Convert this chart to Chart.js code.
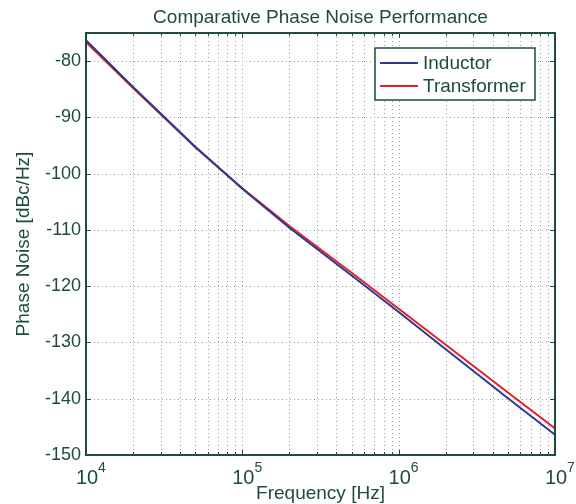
<!DOCTYPE html>
<html>
<head>
<meta charset="utf-8">
<script src="https://cdn.jsdelivr.net/npm/chart.js@4.4.1/dist/chart.umd.min.js"></script>
<style>
  html, body { margin: 0; padding: 0; background: #fff; }
  #wrap { width: 576px; height: 504px; }
</style>
</head>
<body>
<div id="wrap"><canvas id="phaseChart" width="576" height="504"></canvas></div>
<script>
'use strict';

// offset frequencies in Hz
const frequencies = [1e4, 2e4, 5e4, 1e5, 2e5, 5e5, 1e6, 2e6, 5e6, 1e7];
// phase noise in dBc/Hz
const inductorNoise = [-76.3, -84.6, -95.2, -102.7, -109.6, -118.1, -124.6, -131.2, -139.9, -146.4];
const transformerNoise = [-76.6, -84.8, -95.3, -102.6, -109.3, -117.6, -124.0, -130.4, -138.9, -145.3];
const yTicks = [-150, -140, -130, -120, -110, -100, -90, -80];
const xDecades = [4, 5, 6, 7];

const axisColor = '#1d4d37';
const gridColor = '#8fa89c';
const fontFamily = 'Arial, "Liberation Sans", sans-serif';

function toPoints(values) {
  return frequencies.map((f, i) => ({ x: f, y: values[i] }));
}

function buildLogTicks() {
  const ticks = [];
  for (let d = xDecades[0]; d < xDecades[xDecades.length - 1]; d++) {
    for (let m = 1; m <= 9; m++) ticks.push({ value: m * Math.pow(10, d), major: m === 1 });
  }
  ticks.push({ value: Math.pow(10, xDecades[xDecades.length - 1]), major: true });
  return ticks;
}

const logTicks = buildLogTicks();

// dotted grid behind the lines
const dottedGrid = {
  id: 'dottedGrid',
  beforeDatasetsDraw(chart) {
    const { ctx, chartArea: area, scales } = chart;
    ctx.save();
    ctx.strokeStyle = gridColor;
    ctx.lineWidth = 1;
    ctx.setLineDash([1, 3]);
    ctx.beginPath();
    logTicks.forEach((t) => {
      const px = Math.round(scales.x.getPixelForValue(t.value)) + 0.5;
      if (px <= area.left + 1 || px >= area.right - 1) return;
      ctx.moveTo(px, area.top);
      ctx.lineTo(px, area.bottom);
    });
    yTicks.forEach((v) => {
      const py = Math.round(scales.y.getPixelForValue(v)) + 0.5;
      if (py >= area.bottom - 1) return;
      ctx.moveTo(area.left, py);
      ctx.lineTo(area.right, py);
    });
    ctx.stroke();
    ctx.restore();
  },
};

const matlabFrame = {
  id: 'matlabFrame',
  afterDraw(chart) {
    const { ctx, chartArea: area, scales } = chart;
    const xScale = scales.x;
    const yScale = scales.y;
    const midX = (area.left + area.right) / 2;
    ctx.save();

    // box
    ctx.strokeStyle = axisColor;
    ctx.lineWidth = 2;
    ctx.strokeRect(area.left, area.top, area.right - area.left, area.bottom - area.top);

    // inward tick marks
    ctx.lineWidth = 1;
    ctx.beginPath();
    logTicks.forEach((t) => {
      const px = Math.round(xScale.getPixelForValue(t.value)) + 0.5;
      const len = t.major ? 5 : 3;
      ctx.moveTo(px, area.bottom); ctx.lineTo(px, area.bottom - len);
      ctx.moveTo(px, area.top); ctx.lineTo(px, area.top + len);
    });
    yTicks.forEach((v) => {
      const py = Math.round(yScale.getPixelForValue(v)) + 0.5;
      ctx.moveTo(area.left, py); ctx.lineTo(area.left + 5, py);
      ctx.moveTo(area.right, py); ctx.lineTo(area.right - 5, py);
    });
    ctx.stroke();

    // y tick labels
    ctx.fillStyle = axisColor;
    ctx.font = '18px ' + fontFamily;
    ctx.textAlign = 'right';
    ctx.textBaseline = 'middle';
    yTicks.forEach((v) => {
      ctx.fillText(String(v), area.left - 5, yScale.getPixelForValue(v));
    });

    // x tick labels, 10 with superscript exponent
    ctx.textBaseline = 'alphabetic';
    ctx.textAlign = 'left';
    xDecades.forEach((d) => {
      const px = xScale.getPixelForValue(Math.pow(10, d));
      ctx.font = '20px ' + fontFamily;
      const baseWidth = ctx.measureText('10').width;
      const startX = px - baseWidth / 2 + 1;
      ctx.fillText('10', startX, 484);
      ctx.font = '14px ' + fontFamily;
      ctx.fillText(String(d), startX + baseWidth, 472);
    });

    // titles
    ctx.textAlign = 'center';
    ctx.font = '19px ' + fontFamily;
    ctx.fillText('Comparative Phase Noise Performance', midX, 23);
    ctx.fillText('Frequency [Hz]', midX, 499);
    ctx.save();
    ctx.translate(29, (area.top + area.bottom) / 2);
    ctx.rotate(-Math.PI / 2);
    ctx.fillText('Phase Noise [dBc/Hz]', 0, 0);
    ctx.restore();

    // legend
    const boxLeft = 375;
    const boxTop = 48;
    const boxW = 160;
    const boxH = 52;
    ctx.fillStyle = '#fff';
    ctx.fillRect(boxLeft, boxTop, boxW, boxH);
    ctx.strokeStyle = axisColor;
    ctx.lineWidth = 1.5;
    ctx.strokeRect(boxLeft, boxTop, boxW, boxH);
    ctx.font = '19px ' + fontFamily;
    ctx.textAlign = 'left';
    ctx.textBaseline = 'middle';
    chart.data.datasets.forEach((ds, i) => {
      const cy = boxTop + 15 + i * 23;
      ctx.strokeStyle = ds.borderColor;
      ctx.lineWidth = 2;
      ctx.beginPath();
      ctx.moveTo(boxLeft + 5, cy);
      ctx.lineTo(boxLeft + 43, cy);
      ctx.stroke();
      ctx.fillStyle = axisColor;
      ctx.fillText(ds.label, boxLeft + 48, cy + 1);
    });

    ctx.restore();
  },
};

new Chart(document.getElementById('phaseChart'), {
  type: 'line',
  data: {
    datasets: [
      {
        label: 'Inductor',
        data: toPoints(inductorNoise),
        borderColor: '#2b3a92',
        borderWidth: 2,
        pointRadius: 0,
        tension: 0,
      },
      {
        label: 'Transformer',
        data: toPoints(transformerNoise),
        borderColor: '#ec1c24',
        borderWidth: 2,
        pointRadius: 0,
        tension: 0,
      },
    ],
  },
  options: {
    responsive: false,
    animation: false,
    layout: { padding: { left: 86, right: 21, top: 33, bottom: 49 } },
    plugins: {
      legend: { display: false },
      tooltip: { enabled: false },
    },
    scales: {
      x: {
        type: 'logarithmic',
        min: 1e4,
        max: 1e7,
        afterFit: (scale) => { scale.height = 0; },
        ticks: { display: false },
        grid: { display: false },
        border: { display: false },
      },
      y: {
        type: 'linear',
        min: -150,
        max: -75,
        afterFit: (scale) => { scale.width = 0; },
        ticks: { display: false },
        grid: { display: false },
        border: { display: false },
      },
    },
  },
  plugins: [dottedGrid, matlabFrame],
});
</script>
</body>
</html>
